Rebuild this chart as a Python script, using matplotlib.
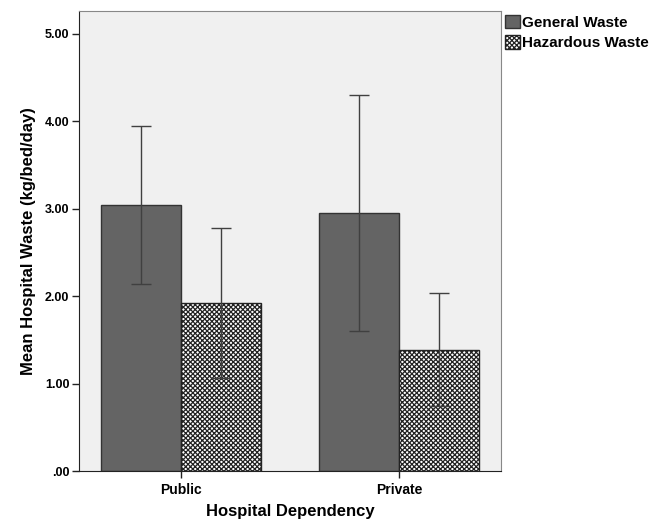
import matplotlib
matplotlib.use("Agg")
import matplotlib.pyplot as plt
import numpy as np

categories = ["Public", "Private"]
series_names = ["General Waste", "Hazardous Waste"]
general_mean = [3.04, 2.95]
general_low = [2.14, 1.60]
general_high = [3.94, 4.30]
hazard_mean = [1.92, 1.38]
hazard_low = [1.06, 0.74]
hazard_high = [2.78, 2.04]
ytick_vals = [0, 1, 2, 3, 4, 5]
ytick_labels = [".00", "1.00", "2.00", "3.00", "4.00", "5.00"]

plt.rcParams['font.family'] = ['Liberation Sans', 'DejaVu Sans']
plt.rcParams['hatch.linewidth'] = 0.9

fig = plt.figure(figsize=(6.65, 5.24), dpi=100)
ax = fig.add_axes([79/665, 1-471/524, (501-79)/665, (471-11)/524])
ax.set_facecolor("#f0f0f0")

x = np.arange(len(categories))
w = 0.366

def err(mean, lo, hi):
    m = np.array(mean); return [m - np.array(lo), np.array(hi) - m]

b1 = ax.bar(x - w/2, general_mean, w, color="#646464", edgecolor="#333333", linewidth=1.0,
            label=series_names[0], zorder=2)
b2 = ax.bar(x + w/2, hazard_mean, w, color="white", edgecolor="#222222", hatch="xxxxxxx",
            linewidth=1.0, label=series_names[1], zorder=2)
ax.errorbar(x - w/2, general_mean, yerr=err(general_mean, general_low, general_high),
            fmt="none", ecolor="#404040", elinewidth=1.0, capsize=7, capthick=1.0, zorder=3)
ax.errorbar(x + w/2, hazard_mean, yerr=err(hazard_mean, hazard_low, hazard_high),
            fmt="none", ecolor="#404040", elinewidth=1.0, capsize=7, capthick=1.0, zorder=3)

ax.set_xlim(-0.466, 1.466)
ax.set_ylim(0, 5.26)
ax.set_yticks(ytick_vals)
ax.set_yticklabels(ytick_labels, fontsize=9, fontweight="bold")
ax.set_xticks(x)
ax.set_xticklabels(categories, fontsize=10, fontweight="bold")
ax.tick_params(axis="both", direction="out", length=5, width=1, color="#222222", pad=2)
ax.tick_params(axis="x", pad=4)

for s in ["left", "bottom"]:
    ax.spines[s].set_color("#222222")
for s in ["top", "right"]:
    ax.spines[s].set_color("#888888")

ax.set_ylabel("Mean Hospital Waste (kg/bed/day)", fontsize=12, fontweight="bold", labelpad=6)
ax.set_xlabel("Hospital Dependency", fontsize=12, fontweight="bold", labelpad=5)

leg = ax.legend(loc="upper left", bbox_to_anchor=(1.0, 1.0), frameon=False,
                prop={"weight": "bold", "size": 11}, handlelength=1.0, handleheight=1.0,
                handletextpad=0.15, borderaxespad=0.15, labelspacing=0.35, borderpad=0.1)

fig.savefig("out.png", dpi=100)
